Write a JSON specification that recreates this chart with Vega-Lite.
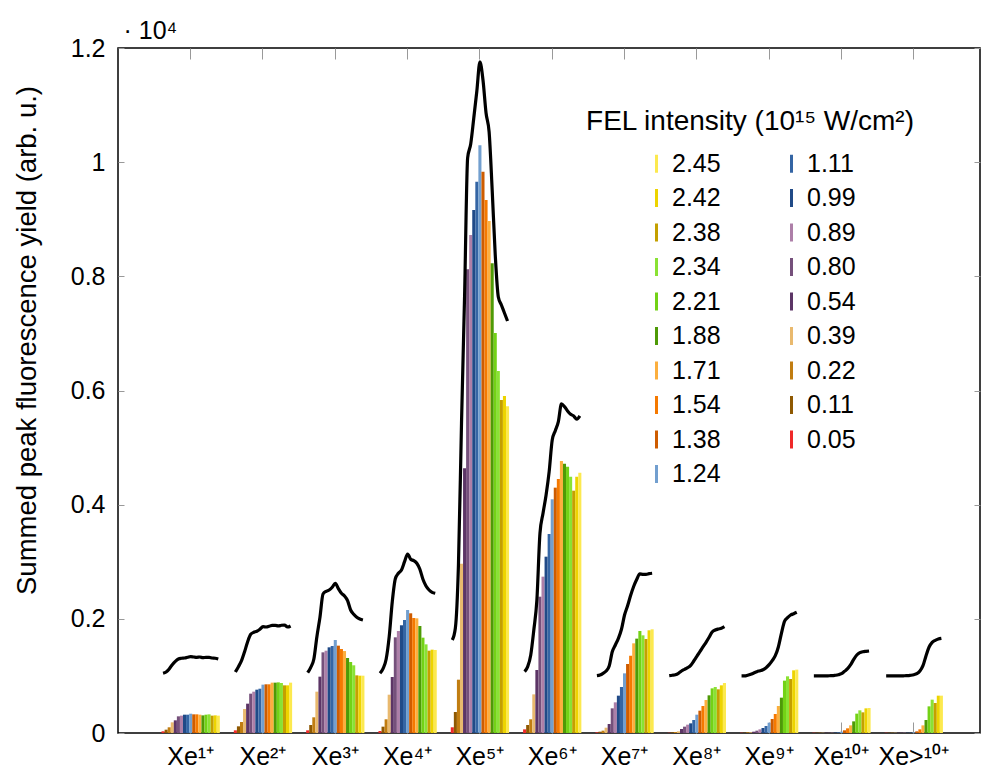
{
  "$schema": "https://vega.github.io/schema/vega-lite/v6.json",
  "width": 862,
  "height": 685,
  "autosize": {"type": "none"},
  "padding": {"left": 118, "top": 48, "right": 1, "bottom": 36},
  "config": {"view": {"stroke": "black", "strokeWidth": 1.5}, "font": "Liberation Sans"},
  "datasets": {
    "rows": [
      {"ion":"Xe¹⁺","I":"0.05","y":30,"c":1046},{"ion":"Xe¹⁺","I":"0.11","y":58,"c":1069},{"ion":"Xe¹⁺","I":"0.22","y":100,"c":1121},{"ion":"Xe¹⁺","I":"0.39","y":187,"c":1197},{"ion":"Xe¹⁺","I":"0.54","y":222,"c":1256},{"ion":"Xe¹⁺","I":"0.80","y":292,"c":1296},{"ion":"Xe¹⁺","I":"0.89","y":304,"c":1309},{"ion":"Xe¹⁺","I":"0.99","y":321,"c":1314},{"ion":"Xe¹⁺","I":"1.11","y":321,"c":1326},{"ion":"Xe¹⁺","I":"1.24","y":338,"c":1337},{"ion":"Xe¹⁺","I":"1.38","y":327,"c":1331},{"ion":"Xe¹⁺","I":"1.54","y":327,"c":1326},{"ion":"Xe¹⁺","I":"1.71","y":321,"c":1331},{"ion":"Xe¹⁺","I":"1.88","y":309,"c":1319},{"ion":"Xe¹⁺","I":"2.21","y":321,"c":1326},{"ion":"Xe¹⁺","I":"2.34","y":327,"c":1326},{"ion":"Xe¹⁺","I":"2.38","y":304,"c":1314},{"ion":"Xe¹⁺","I":"2.42","y":309,"c":1309},{"ion":"Xe¹⁺","I":"2.45","y":304,"c":1296},
      {"ion":"Xe²⁺","I":"0.05","y":47,"c":1069},{"ion":"Xe²⁺","I":"0.11","y":117,"c":1162},{"ion":"Xe²⁺","I":"0.22","y":193,"c":1267},{"ion":"Xe²⁺","I":"0.39","y":420,"c":1424},{"ion":"Xe²⁺","I":"0.54","y":514,"c":1600},{"ion":"Xe²⁺","I":"0.80","y":689,"c":1729},{"ion":"Xe²⁺","I":"0.89","y":724,"c":1764},{"ion":"Xe²⁺","I":"0.99","y":759,"c":1782},{"ion":"Xe²⁺","I":"1.11","y":776,"c":1817},{"ion":"Xe²⁺","I":"1.24","y":847,"c":1862},{"ion":"Xe²⁺","I":"1.38","y":853,"c":1857},{"ion":"Xe²⁺","I":"1.54","y":853,"c":1869},{"ion":"Xe²⁺","I":"1.71","y":882,"c":1887},{"ion":"Xe²⁺","I":"1.88","y":882,"c":1887},{"ion":"Xe²⁺","I":"2.21","y":887,"c":1875},{"ion":"Xe²⁺","I":"2.34","y":876,"c":1887},{"ion":"Xe²⁺","I":"2.38","y":835,"c":1892},{"ion":"Xe²⁺","I":"2.42","y":835,"c":1857},{"ion":"Xe²⁺","I":"2.45","y":882,"c":1875},
      {"ion":"Xe³⁺","I":"0.05","y":47,"c":1056},{"ion":"Xe³⁺","I":"0.11","y":140,"c":1151},{"ion":"Xe³⁺","I":"0.22","y":275,"c":1291},{"ion":"Xe³⁺","I":"0.39","y":724,"c":1687},{"ion":"Xe³⁺","I":"0.54","y":987,"c":2027},{"ion":"Xe³⁺","I":"0.80","y":1413,"c":2435},{"ion":"Xe³⁺","I":"0.89","y":1442,"c":2482},{"ion":"Xe³⁺","I":"0.99","y":1501,"c":2505},{"ion":"Xe³⁺","I":"1.11","y":1524,"c":2553},{"ion":"Xe³⁺","I":"1.24","y":1629,"c":2623},{"ion":"Xe³⁺","I":"1.38","y":1530,"c":2528},{"ion":"Xe³⁺","I":"1.54","y":1471,"c":2447},{"ion":"Xe³⁺","I":"1.71","y":1436,"c":2400},{"ion":"Xe³⁺","I":"1.88","y":1314,"c":2318},{"ion":"Xe³⁺","I":"2.21","y":1244,"c":2155},{"ion":"Xe³⁺","I":"2.34","y":1186,"c":2080},{"ion":"Xe³⁺","I":"2.38","y":1010,"c":2027},{"ion":"Xe³⁺","I":"2.42","y":1004,"c":1997},{"ion":"Xe³⁺","I":"2.45","y":1004,"c":1980},
      {"ion":"Xe⁴⁺","I":"0.05","y":35,"c":1046},{"ion":"Xe⁴⁺","I":"0.11","y":111,"c":1127},{"ion":"Xe⁴⁺","I":"0.22","y":240,"c":1291},{"ion":"Xe⁴⁺","I":"0.39","y":671,"c":1687},{"ion":"Xe⁴⁺","I":"0.54","y":981,"c":2300},{"ion":"Xe⁴⁺","I":"0.80","y":1676,"c":2703},{"ion":"Xe⁴⁺","I":"0.89","y":1787,"c":2798},{"ion":"Xe⁴⁺","I":"0.99","y":1887,"c":2856},{"ion":"Xe⁴⁺","I":"1.11","y":1980,"c":3001},{"ion":"Xe⁴⁺","I":"1.24","y":2155,"c":3136},{"ion":"Xe⁴⁺","I":"1.38","y":2097,"c":3043},{"ion":"Xe⁴⁺","I":"1.54","y":2015,"c":3019},{"ion":"Xe⁴⁺","I":"1.71","y":2009,"c":2973},{"ion":"Xe⁴⁺","I":"1.88","y":1875,"c":2868},{"ion":"Xe⁴⁺","I":"2.21","y":1670,"c":2693},{"ion":"Xe⁴⁺","I":"2.34","y":1553,"c":2575},{"ion":"Xe⁴⁺","I":"2.38","y":1442,"c":2505},{"ion":"Xe⁴⁺","I":"2.42","y":1460,"c":2465},{"ion":"Xe⁴⁺","I":"2.45","y":1454,"c":2447},
      {"ion":"Xe⁵⁺","I":"0.05","y":100,"c":1629},{"ion":"Xe⁵⁺","I":"0.11","y":368,"c":1840},{"ion":"Xe⁵⁺","I":"0.22","y":934,"c":2943},{"ion":"Xe⁵⁺","I":"0.39","y":2966,"c":5431},{"ion":"Xe⁵⁺","I":"0.54","y":4637,"c":7656},{"ion":"Xe⁵⁺","I":"0.80","y":8123,"c":10074},{"ion":"Xe⁵⁺","I":"0.89","y":8724,"c":10319},{"ion":"Xe⁵⁺","I":"0.99","y":9162,"c":10774},{"ion":"Xe⁵⁺","I":"1.11","y":9658,"c":11247},{"ion":"Xe⁵⁺","I":"1.24","y":10295,"c":11756},{"ion":"Xe⁵⁺","I":"1.38","y":9833,"c":11440},{"ion":"Xe⁵⁺","I":"1.54","y":9337,"c":10862},{"ion":"Xe⁵⁺","I":"1.71","y":8969,"c":10529},{"ion":"Xe⁵⁺","I":"1.88","y":8228,"c":9513},{"ion":"Xe⁵⁺","I":"2.21","y":7007,"c":8374},{"ion":"Xe⁵⁺","I":"2.34","y":6342,"c":7638},{"ion":"Xe⁵⁺","I":"2.38","y":5834,"c":7498},{"ion":"Xe⁵⁺","I":"2.42","y":5904,"c":7358},{"ion":"Xe⁵⁺","I":"2.45","y":5723,"c":7218},
      {"ion":"Xe⁶⁺","I":"0.05","y":64,"c":1074},{"ion":"Xe⁶⁺","I":"0.11","y":140,"c":1162},{"ion":"Xe⁶⁺","I":"0.22","y":240,"c":1367},{"ion":"Xe⁶⁺","I":"0.39","y":677,"c":1805},{"ion":"Xe⁶⁺","I":"0.54","y":1104,"c":2330},{"ion":"Xe⁶⁺","I":"0.80","y":2388,"c":3499},{"ion":"Xe⁶⁺","I":"0.89","y":2739,"c":3849},{"ion":"Xe⁶⁺","I":"0.99","y":3089,"c":4170},{"ion":"Xe⁶⁺","I":"1.11","y":3486,"c":4578},{"ion":"Xe⁶⁺","I":"1.24","y":4094,"c":5133},{"ion":"Xe⁶⁺","I":"1.38","y":4298,"c":5296},{"ion":"Xe⁶⁺","I":"1.54","y":4450,"c":5454},{"ion":"Xe⁶⁺","I":"1.71","y":4765,"c":5764},{"ion":"Xe⁶⁺","I":"1.88","y":4718,"c":5717},{"ion":"Xe⁶⁺","I":"2.21","y":4665,"c":5641},{"ion":"Xe⁶⁺","I":"2.34","y":4490,"c":5583},{"ion":"Xe⁶⁺","I":"2.38","y":4245,"c":5554},{"ion":"Xe⁶⁺","I":"2.42","y":4490,"c":5496},{"ion":"Xe⁶⁺","I":"2.45","y":4560,"c":5554},
      {"ion":"Xe⁷⁺","I":"0.05","y":12,"c":1004},{"ion":"Xe⁷⁺","I":"0.11","y":23,"c":1016},{"ion":"Xe⁷⁺","I":"0.22","y":41,"c":1046},{"ion":"Xe⁷⁺","I":"0.39","y":93,"c":1086},{"ion":"Xe⁷⁺","I":"0.54","y":158,"c":1174},{"ion":"Xe⁷⁺","I":"0.80","y":432,"c":1424},{"ion":"Xe⁷⁺","I":"0.89","y":537,"c":1542},{"ion":"Xe⁷⁺","I":"0.99","y":654,"c":1659},{"ion":"Xe⁷⁺","I":"1.11","y":806,"c":1817},{"ion":"Xe⁷⁺","I":"1.24","y":1045,"c":2067},{"ion":"Xe⁷⁺","I":"1.38","y":1209,"c":2230},{"ion":"Xe⁷⁺","I":"1.54","y":1355,"c":2412},{"ion":"Xe⁷⁺","I":"1.71","y":1571,"c":2570},{"ion":"Xe⁷⁺","I":"1.88","y":1653,"c":2693},{"ion":"Xe⁷⁺","I":"2.21","y":1787,"c":2786},{"ion":"Xe⁷⁺","I":"2.34","y":1711,"c":2780},{"ion":"Xe⁷⁺","I":"2.38","y":1647,"c":2780},{"ion":"Xe⁷⁺","I":"2.42","y":1799,"c":2791},{"ion":"Xe⁷⁺","I":"2.45","y":1817,"c":2798},
      {"ion":"Xe⁸⁺","I":"0.05","y":5,"c":1004},{"ion":"Xe⁸⁺","I":"0.11","y":12,"c":1011},{"ion":"Xe⁸⁺","I":"0.22","y":18,"c":1021},{"ion":"Xe⁸⁺","I":"0.39","y":29,"c":1046},{"ion":"Xe⁸⁺","I":"0.54","y":70,"c":1086},{"ion":"Xe⁸⁺","I":"0.80","y":111,"c":1116},{"ion":"Xe⁸⁺","I":"0.89","y":146,"c":1144},{"ion":"Xe⁸⁺","I":"0.99","y":169,"c":1186},{"ion":"Xe⁸⁺","I":"1.11","y":228,"c":1261},{"ion":"Xe⁸⁺","I":"1.24","y":321,"c":1344},{"ion":"Xe⁸⁺","I":"1.38","y":391,"c":1424},{"ion":"Xe⁸⁺","I":"1.54","y":473,"c":1507},{"ion":"Xe⁸⁺","I":"1.71","y":578,"c":1589},{"ion":"Xe⁸⁺","I":"1.88","y":660,"c":1677},{"ion":"Xe⁸⁺","I":"2.21","y":782,"c":1769},{"ion":"Xe⁸⁺","I":"2.34","y":806,"c":1804},{"ion":"Xe⁸⁺","I":"2.38","y":765,"c":1822},{"ion":"Xe⁸⁺","I":"2.42","y":835,"c":1834},{"ion":"Xe⁸⁺","I":"2.45","y":876,"c":1863},
      {"ion":"Xe⁹⁺","I":"0.05","y":5,"c":999},{"ion":"Xe⁹⁺","I":"0.11","y":5,"c":999},{"ion":"Xe⁹⁺","I":"0.22","y":12,"c":1011},{"ion":"Xe⁹⁺","I":"0.39","y":12,"c":1028},{"ion":"Xe⁹⁺","I":"0.54","y":23,"c":1051},{"ion":"Xe⁹⁺","I":"0.80","y":41,"c":1074},{"ion":"Xe⁹⁺","I":"0.89","y":64,"c":1091},{"ion":"Xe⁹⁺","I":"0.99","y":88,"c":1109},{"ion":"Xe⁹⁺","I":"1.11","y":123,"c":1144},{"ion":"Xe⁹⁺","I":"1.24","y":181,"c":1197},{"ion":"Xe⁹⁺","I":"1.38","y":245,"c":1267},{"ion":"Xe⁹⁺","I":"1.54","y":333,"c":1354},{"ion":"Xe⁹⁺","I":"1.71","y":473,"c":1507},{"ion":"Xe⁹⁺","I":"1.88","y":619,"c":1747},{"ion":"Xe⁹⁺","I":"2.21","y":917,"c":1957},{"ion":"Xe⁹⁺","I":"2.34","y":993,"c":2020},{"ion":"Xe⁹⁺","I":"2.38","y":946,"c":2067},{"ion":"Xe⁹⁺","I":"2.42","y":1098,"c":2090},{"ion":"Xe⁹⁺","I":"2.45","y":1110,"c":2115},
      {"ion":"Xe¹⁰⁺","I":"0.05","y":5,"c":999},{"ion":"Xe¹⁰⁺","I":"0.11","y":5,"c":999},{"ion":"Xe¹⁰⁺","I":"0.22","y":5,"c":999},{"ion":"Xe¹⁰⁺","I":"0.39","y":5,"c":999},{"ion":"Xe¹⁰⁺","I":"0.54","y":5,"c":999},{"ion":"Xe¹⁰⁺","I":"0.80","y":5,"c":1003},{"ion":"Xe¹⁰⁺","I":"0.89","y":5,"c":1004},{"ion":"Xe¹⁰⁺","I":"0.99","y":8,"c":1011},{"ion":"Xe¹⁰⁺","I":"1.11","y":12,"c":1021},{"ion":"Xe¹⁰⁺","I":"1.24","y":23,"c":1039},{"ion":"Xe¹⁰⁺","I":"1.38","y":47,"c":1081},{"ion":"Xe¹⁰⁺","I":"1.54","y":82,"c":1127},{"ion":"Xe¹⁰⁺","I":"1.71","y":134,"c":1197},{"ion":"Xe¹⁰⁺","I":"1.88","y":204,"c":1291},{"ion":"Xe¹⁰⁺","I":"2.21","y":339,"c":1367},{"ion":"Xe¹⁰⁺","I":"2.34","y":397,"c":1407},{"ion":"Xe¹⁰⁺","I":"2.38","y":362,"c":1424},{"ion":"Xe¹⁰⁺","I":"2.42","y":432,"c":1431},{"ion":"Xe¹⁰⁺","I":"2.45","y":438,"c":1437},
      {"ion":"Xe˃¹⁰⁺","I":"0.05","y":5,"c":999},{"ion":"Xe˃¹⁰⁺","I":"0.11","y":5,"c":999},{"ion":"Xe˃¹⁰⁺","I":"0.22","y":5,"c":999},{"ion":"Xe˃¹⁰⁺","I":"0.39","y":5,"c":999},{"ion":"Xe˃¹⁰⁺","I":"0.54","y":5,"c":999},{"ion":"Xe˃¹⁰⁺","I":"0.80","y":5,"c":999},{"ion":"Xe˃¹⁰⁺","I":"0.89","y":5,"c":1003},{"ion":"Xe˃¹⁰⁺","I":"0.99","y":5,"c":1004},{"ion":"Xe˃¹⁰⁺","I":"1.11","y":5,"c":1011},{"ion":"Xe˃¹⁰⁺","I":"1.24","y":12,"c":1021},{"ion":"Xe˃¹⁰⁺","I":"1.38","y":29,"c":1039},{"ion":"Xe˃¹⁰⁺","I":"1.54","y":64,"c":1086},{"ion":"Xe˃¹⁰⁺","I":"1.71","y":134,"c":1179},{"ion":"Xe˃¹⁰⁺","I":"1.88","y":228,"c":1354},{"ion":"Xe˃¹⁰⁺","I":"2.21","y":467,"c":1507},{"ion":"Xe˃¹⁰⁺","I":"2.34","y":584,"c":1589},{"ion":"Xe˃¹⁰⁺","I":"2.38","y":526,"c":1624},{"ion":"Xe˃¹⁰⁺","I":"2.42","y":654,"c":1647},{"ion":"Xe˃¹⁰⁺","I":"2.45","y":654,"c":1659}
    ]
  },
  "data": {"name": "rows"},
  "layer": [
    {
      "mark": {"type": "bar"},
      "encoding": {
        "x": {"field": "ion", "type": "nominal", "sort": null,
          "scale": {"domain": ["Xe¹⁺","Xe²⁺","Xe³⁺","Xe⁴⁺","Xe⁵⁺","Xe⁶⁺","Xe⁷⁺","Xe⁸⁺","Xe⁹⁺","Xe¹⁰⁺","Xe˃¹⁰⁺"], "paddingInner": 0.194, "paddingOuter": 0.5575, "align": 0.54},
          "axis": {"orient": "bottom", "title": null, "domain": false, "labelAngle": 0, "labelFontSize": 25, "labelFont": "Liberation Sans", "labelColor": "black", "tickColor": "#999999", "tickSize": -11, "tickWidth": 1, "labelPadding": 22}},
        "xOffset": {"field": "I", "type": "nominal", "sort": "ascending", "scale": {"paddingInner": 0, "paddingOuter": 0}},
        "y": {"field": "y", "type": "quantitative",
          "scale": {"domain": [0, 12000], "nice": false},
          "axis": {"orient": "left", "values": [0,2000,4000,6000,8000,10000,12000], "labelExpr": "format(datum.value/10000, '~g')", "domain": false, "grid": false, "labelFontSize": 25, "labelFont": "Liberation Sans", "labelColor": "black", "tickColor": "#999999", "tickSize": -6, "labelPadding": 19,
            "title": "Summed peak fluorescence yield (arb. u.)", "titleFontSize": 27.5, "titleFont": "Liberation Sans", "titleFontWeight": "normal", "titleColor": "black", "titleX": -77, "titleY": 292}},
        "color": {"field": "I", "type": "nominal",
          "scale": {"domain": ["0.05","0.11","0.22","0.39","0.54","0.80","0.89","0.99","1.11","1.24","1.38","1.54","1.71","1.88","2.21","2.34","2.38","2.42","2.45"],
                    "range": ["#ef2929","#8f5902","#c17d11","#e9b96e","#5c3566","#75507b","#ad7fa8","#204a87","#3465a4","#729fcf","#ce5c00","#f57900","#fcaf3e","#4e9a06","#73d216","#8ae234","#c4a000","#edd400","#fce94f"]},
          "legend": {"orient": "none", "legendX": 468, "legendY": 60, "columns": 2, "values": ["2.45","2.42","2.38","2.34","2.21","1.88","1.71","1.54","1.38","1.24","1.11","0.99","0.89","0.80","0.54","0.39","0.22","0.11","0.05"],
            "title": "FEL intensity (10¹⁵ W/cm²)", "titleFontSize": 28, "titleFont": "Liberation Sans", "titleFontWeight": "normal", "titleColor": "black", "titleAnchor": "middle", "titlePadding": 15, "titleLimit": 600,
            "symbolType": "M-0.15,-0.9H0.15V0.9H-0.15Z", "symbolSize": 400, "symbolStrokeWidth": 0, "symbolOpacity": 1,
            "labelFontSize": 25, "labelFont": "Liberation Sans", "labelColor": "black", "labelOffset": 3, "columnPadding": 58, "rowPadding": 8.5, "padding": 0}}
      }
    },
    {
      "mark": {"type": "line", "color": "black", "strokeWidth": 3.2, "interpolate": "monotone"},
      "encoding": {
        "x": {"field": "ion", "type": "nominal", "sort": null,
          "scale": {"domain": ["Xe¹⁺","Xe²⁺","Xe³⁺","Xe⁴⁺","Xe⁵⁺","Xe⁶⁺","Xe⁷⁺","Xe⁸⁺","Xe⁹⁺","Xe¹⁰⁺","Xe˃¹⁰⁺"], "paddingInner": 0.194, "paddingOuter": 0.5575, "align": 0.54},
          "axis": {"orient": "top", "domain": false, "labels": false, "tickColor": "#999999", "tickSize": -11, "tickWidth": 1,
            "title": "· 10⁴", "titleFontSize": 25, "titleFont": "Liberation Sans", "titleFontWeight": "normal", "titleColor": "black", "titleX": 5, "titleY": -10, "titleAlign": "left", "titleBaseline": "alphabetic", "titleAngle": 0}},
        "xOffset": {"field": "I", "type": "nominal", "sort": "ascending", "scale": {"paddingInner": 0, "paddingOuter": 0}},
        "y": {"field": "c", "type": "quantitative",
          "scale": {"domain": [0, 12000], "nice": false},
          "axis": {"orient": "right", "values": [0,2000,4000,6000,8000,10000,12000], "domain": false, "grid": false, "labels": false, "title": null, "tickColor": "#999999", "tickSize": -6}},
        "detail": {"field": "ion", "type": "nominal"},
        "order": {"field": "I", "type": "ordinal"}
      }
    }
  ],
  "resolve": {"axis": {"x": "independent", "y": "independent"}}
}
